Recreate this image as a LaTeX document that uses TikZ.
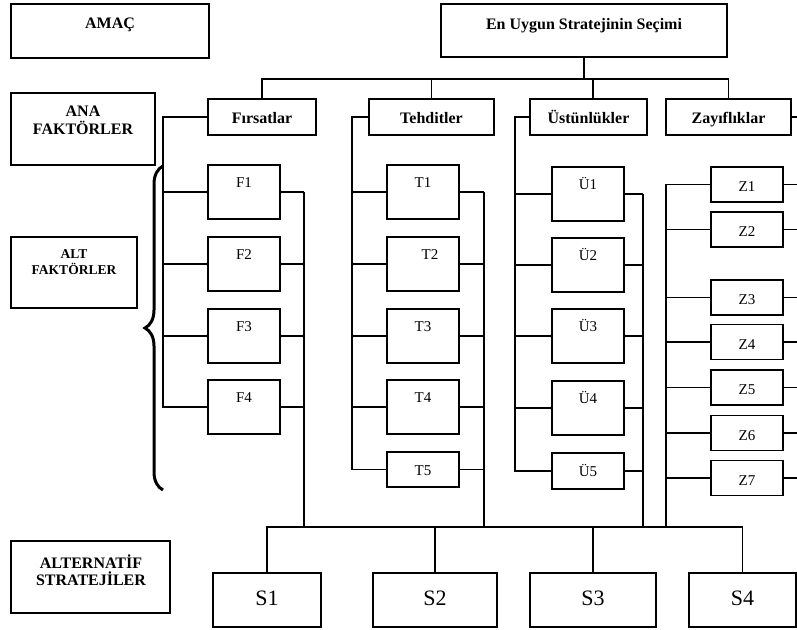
\documentclass[tikz,border=0pt]{standalone}
\usepackage{fontspec}
\setmainfont{Liberation Serif}
\usetikzlibrary{decorations.pathreplacing}
\newcommand\HdrF{\bfseries\fontsize{16}{18}\selectfont}
\newcommand\AltF{\bfseries\fontsize{13.5}{16}\selectfont}
\newcommand\StrF{\bfseries\fontsize{16}{17}\selectfont}
\newcommand\SubF{\fontsize{15}{17}\selectfont}
\newcommand\SF{\fontsize{22}{24}\selectfont}
\begin{document}
\begin{tikzpicture}[x=1pt,y=-1pt,
  box/.style={draw, line width=1.6pt, inner sep=0pt, minimum width=72pt},
  hdr/.style={box, font=\HdrF, text height=24pt, text depth=12pt},
  tallbox/.style={box, font=\SubF, text height=22pt, text depth=32pt},
  shortbox/.style={box, font=\SubF, text height=24.5pt, text depth=10.5pt},
  lastbox/.style={box, font=\SubF, text height=23.5pt, text depth=12pt},
  sbox/.style={box, font=\SF, text height=32pt, text depth=22pt},
  conn/.style={line width=1.3pt},
  midline/.style={line width=1.9pt},
  heavy/.style={line width=2.7pt}]
\useasboundingbox (0,0) rectangle (797,629);

% level label boxes
\node[box, minimum width=198pt, text height=24pt, text depth=30pt, font=\HdrF] (amac) at (110,31) {AMAÇ};
\node[box, minimum width=144pt, minimum height=72pt] (ana) at (83,129) {};
\node[font=\HdrF, align=center, inner sep=0pt] (anat) at (83,120.7) {ANA\\FAKTÖRLER};
\node[box, minimum width=126pt, minimum height=71pt] (alt) at (74,272.5) {};
\node[font=\AltF, align=center, inner sep=0pt] (altt) at (74,262) {ALT\\FAKTÖRLER};
\node[box, minimum width=159pt, minimum height=72pt] (alts) at (90.5,577) {};
\node[font=\StrF, align=center, inner sep=0pt] (altst) at (91,570) {ALTERNATİF\\STRATEJİLER};

% goal
\node[box, minimum width=286pt, text height=25pt, text depth=28pt, font=\HdrF] (goal) at (584,30.5) {En Uygun Stratejinin Seçimi};

% main factors
\node[hdr, minimum width=108pt] (fir) at (262,117) {Fırsatlar};
\node[hdr, minimum width=125pt] (teh) at (431.5,117) {Tehditler};
\node[hdr, minimum width=117pt] (ust) at (588.5,117) {Üstünlükler};
\node[hdr, minimum width=125pt] (zay) at (728.5,117) {Zayıflıklar};

\coordinate (tb) at (584,79);
\draw[heavy] (goal.south) -- (tb);
\draw[conn] (fir.north) |- (tb) -| (zay.north);
\draw[conn] (teh.north) -- (teh.north |- tb);
\draw[conn] ([xshift=4.5pt]ust.north) -- ([xshift=4.5pt]ust.north |- tb);

% sub factors F
\foreach \i/\y in {1/192,2/264,3/336,4/407}
  \node[tallbox] (f\i) at (244,\y) {F\i};
% T
\foreach \i/\y in {1/192,3/336,4/407}
  \node[tallbox] (t\i) at (423,\y) {T\i};
\node[tallbox] (t2) at (423,264) {\hspace*{14pt}T2};
\node[box, font=\SubF, text height=23pt, text depth=12pt] (t5) at (423,469.5) {T5};
% U
\foreach \i/\y in {1/194,2/265,3/336,4/408}
  \node[tallbox] (u\i) at (588,\y) {Ü\i};
\node[lastbox] (u5) at (588,471) {Ü5};
% Z
\foreach \i/\y in {1/184.5,2/229.5,3/297.5,4/342,5/387.5,6/433,7/478}
  \node[shortbox] (z\i) at (747,\y) {Z\i};

% strategies
\node[sbox, minimum width=108pt] (s1) at (267,600) {S1};
\node[sbox, minimum width=124pt] (s2) at (435,600) {S2};
\node[sbox, minimum width=126pt] (s3) at (593,600) {S3};
\node[sbox, minimum width=107pt] (s4) at (742.5,600) {S4};

\coordinate (bus) at (0,527);
\draw[conn] (s1.north) |- (s4.north |- bus) -- (s4.north);
\draw[conn] (s2.north) -- (s2.north |- bus);
\draw[conn] (s3.north) -- (s3.north |- bus);

% F connectors
\coordinate (fl) at (163,117);
\coordinate (fr) at (304,192);
\draw[midline] (fir.west) -- (fl) -- (fl |- f4.west) -- (f4.west);
\foreach \i in {1,2,3} \draw[conn] (f\i.west) -- (f\i.west -| fl);
\foreach \i in {1,...,4} \draw[conn] (f\i.east) -- (f\i.east -| fr);
\draw[heavy] (f1.east -| fr) -- (f3.east -| fr);
\draw[conn] (f3.east -| fr) -- (fr |- bus);

% T connectors
\coordinate (tl) at (352,117);
\coordinate (tr) at (484,192);
\draw[heavy] (teh.west) -- (tl) -- (tl |- t2.west);
\draw[conn] (tl |- t2.west) -- (tl |- t5.west) -- (t5.west);
\foreach \i in {1,...,4} \draw[conn] (t\i.west) -- (t\i.west -| tl);
\foreach \i in {1,...,5} \draw[conn] (t\i.east) -- (t\i.east -| tr);
\draw[heavy] (t1.east -| tr) -- (t4.east -| tr);
\draw[conn] (t4.east -| tr) -- (tr |- bus);

% U connectors
\coordinate (ul) at (515,117);
\coordinate (ur) at (643,194);
\draw[heavy] (ust.west) -- (ul) -- (ul |- u3.west);
\draw[conn] (ul |- u3.west) -- (ul |- u5.west) -- (u5.west);
\foreach \i in {1,...,4} \draw[conn] (u\i.west) -- (u\i.west -| ul);
\foreach \i in {1,...,5} \draw[conn] (u\i.east) -- (u\i.east -| ur);
\draw[heavy] (u1.east -| ur) -- (u2.east -| ur);
\draw[conn] (u2.east -| ur) -- (ur |- bus);

% Z connectors
\coordinate (zl) at (666,184.5);
\coordinate (zr) at (797,0);
\draw[midline] (z1.west) -- (zl) -- (zl |- bus);
\foreach \i in {2,...,7} \draw[conn] (z\i.west) -- (z\i.west -| zl);
\foreach \i in {1,...,7} \draw[conn] (z\i.east) -- (z\i.east -| zr);
\draw[conn] (zay.east) -- (zay.east -| zr);

% brace
\draw[line width=3pt, decorate, decoration={brace, amplitude=18pt}] (163,490) -- (163,166);
\end{tikzpicture}
\end{document}
